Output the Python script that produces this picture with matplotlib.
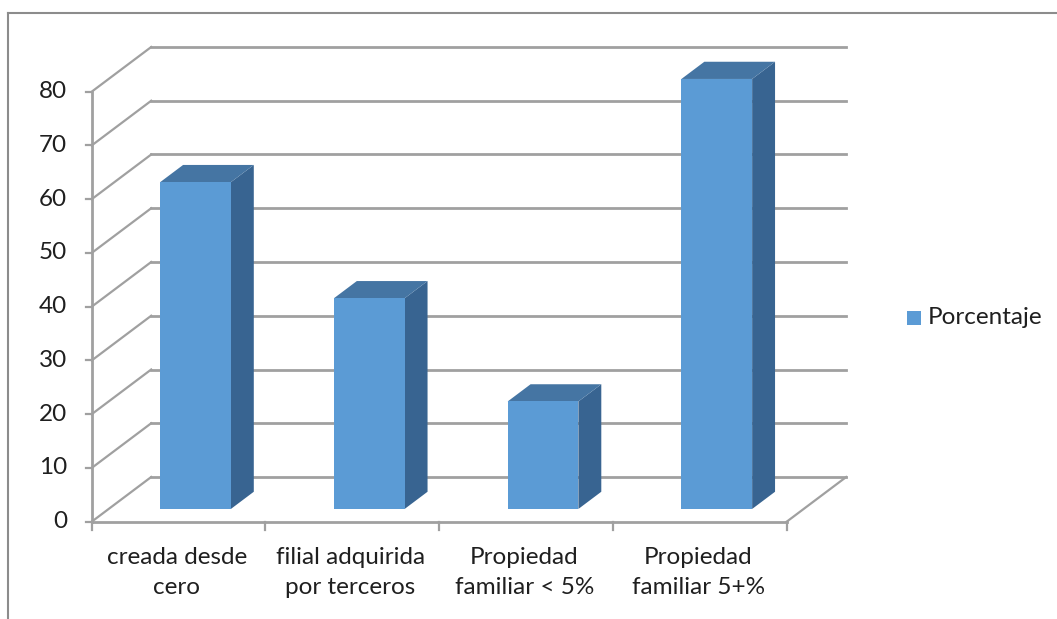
import matplotlib
matplotlib.use("Agg")
import matplotlib.pyplot as plt
from matplotlib.patches import Polygon, Rectangle
from matplotlib.lines import Line2D

# Data
categories = ["creada desde\ncero", "filial adquirida\npor terceros",
              "Propiedad\nfamiliar < 5%", "Propiedad\nfamiliar 5+%"]
values = [60.8, 39.2, 20, 80]
series_name = "Porcentaje"
y_ticks = [0, 10, 20, 30, 40, 50, 60, 70, 80]

# Figure geometry (pixels)
W, H = 1057, 619
DPI = 100
X0_PX, CAT_PX = 91.7, 173.75      # front-left corner and width of one category
Y0_PX, UNIT_PX = 521.7, 5.375     # front floor line and pixels per value unit
DEPTH_DX = 59.5 / CAT_PX          # oblique depth offset in data units
DEPTH_DY = 44.7 / UNIT_PX
BAR_W = 0.407
BAR_D0, BAR_D1 = 0.285, 0.67      # bar front / back depth fractions

FRONT = "#5B9BD5"
TOP = "#4575A3"
SIDE = "#386491"
GRID = "#A0A0A0"
TEXT = "#1F1F1F"

plt.rcParams["font.family"] = ["Lato", "DejaVu Sans"]
FS = 17.5

fig = plt.figure(figsize=(W / DPI, H / DPI), dpi=DPI)
ax = fig.add_axes([0, 0, 1, 1])
ax.set_xlim(-X0_PX / CAT_PX, (W - X0_PX) / CAT_PX)
ax.set_ylim((Y0_PX - H) / UNIT_PX, Y0_PX / UNIT_PX)
ax.axis("off")


def px(xp, yp):
    """Pixel position (from top-left) to data coordinates."""
    return (xp - X0_PX) / CAT_PX, (Y0_PX - yp) / UNIT_PX


def proj(x, y, d):
    """Oblique projection of a point at depth fraction d."""
    return x + d * DEPTH_DX, y + d * DEPTH_DY


n = len(categories)
ymax = y_ticks[-1]

# Back wall and side wall gridlines
for v in y_ticks:
    bx0, by = proj(0, v, 1)
    bx1, _ = proj(n, v, 1)
    ax.add_line(Line2D([bx0, bx1], [by, by], color=GRID, lw=2.0, zorder=1))
    ax.add_line(Line2D([0, bx0], [v, by], color=GRID, lw=1.6, zorder=1))

# Floor front and right edges
ax.add_line(Line2D([0, n], [0, 0], color=GRID, lw=2.0, zorder=1))
rx, ry = proj(n, 0, 1)
ax.add_line(Line2D([n, rx], [0, ry], color=GRID, lw=1.6, zorder=1))

# Vertical axis and tick marks
ax.add_line(Line2D([0, 0], [0, ymax], color=GRID, lw=2.0, zorder=1))
tick_len_x = 6 / CAT_PX
tx, _ = px(67, 0)
for v in y_ticks:
    ax.add_line(Line2D([-tick_len_x, 0], [v, v], color=GRID, lw=1.6, zorder=1))
    ax.text(tx, v, str(v), ha="right", va="center", fontsize=FS, color=TEXT)

# Category tick marks and labels
tick_len_y = 8 / UNIT_PX
for i in range(n + 1):
    ax.add_line(Line2D([i, i], [0, -tick_len_y], color=GRID, lw=1.6, zorder=1))
_, label_y = px(0, 547)
for i, lab in enumerate(categories):
    ax.text(i + 0.49, label_y, lab, ha="center", va="top", fontsize=FS,
            color=TEXT, linespacing=1.5, multialignment="center")

# 3-D bars
for i, v in enumerate(values):
    xl, xr = i + 0.5 - BAR_W / 2, i + 0.5 + BAR_W / 2
    f_bl = proj(xl, 0, BAR_D0)
    f_br = proj(xr, 0, BAR_D0)
    f_tl = proj(xl, v, BAR_D0)
    f_tr = proj(xr, v, BAR_D0)
    b_br = proj(xr, 0, BAR_D1)
    b_tl = proj(xl, v, BAR_D1)
    b_tr = proj(xr, v, BAR_D1)
    ax.add_patch(Polygon([f_br, b_br, b_tr, f_tr], closed=True,
                         facecolor=SIDE, edgecolor="none", zorder=3))
    ax.add_patch(Polygon([f_tl, f_tr, b_tr, b_tl], closed=True,
                         facecolor=TOP, edgecolor="none", zorder=3))
    ax.add_patch(Polygon([f_bl, f_br, f_tr, f_tl], closed=True,
                         facecolor=FRONT, edgecolor="none", zorder=4))

# Legend
lx0, ly0 = px(907, 325)
lx1, ly1 = px(921, 311)
ax.add_patch(Rectangle((lx0, ly0), lx1 - lx0, ly1 - ly0, facecolor=FRONT,
                       edgecolor="none", zorder=3))
tx, ty = px(928, 318)
ax.text(tx, ty, series_name, ha="left", va="center", fontsize=FS, color=TEXT)

# Chart border
bx, by = 7.5 / W, 1 - 12.5 / H
fig.add_artist(Line2D([bx, bx], [0, by], transform=fig.transFigure,
                      color="#8C8C8C", lw=1.5))
fig.add_artist(Line2D([bx, 1], [by, by], transform=fig.transFigure,
                      color="#8C8C8C", lw=1.5))

fig.savefig("out.png", dpi=DPI)
